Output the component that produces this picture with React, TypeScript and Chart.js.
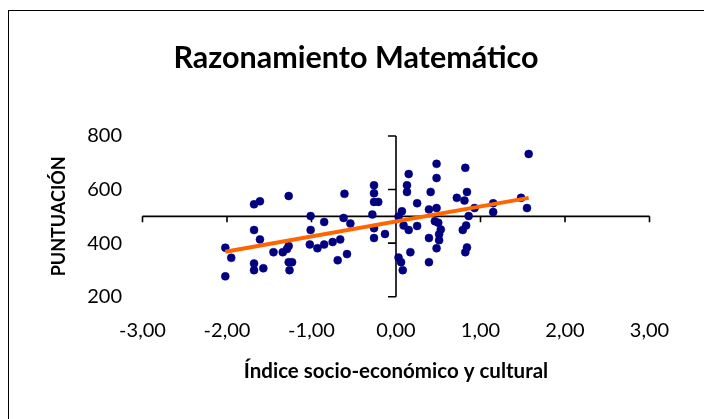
import React, { useEffect, useRef } from "react";
import { Chart, registerables } from "chart.js";

Chart.register(...registerables);

// ---- Text ----
const chartTitle = "Razonamiento Matemático";
const xAxisTitle = "Índice socio-económico y cultural";
const yAxisTitle = "PUNTUACIÓN";

// ---- Axes ----
const xTicks = [-3, -2, -1, 0, 1, 2, 3];
const yTicks = [200, 400, 600, 800];
const crossAtX = 0; // vertical axis crosses at x = 0
const crossAtY = 500; // horizontal axis crosses at y = 500

// ---- Series: Índice socio-económico (x) vs Puntuación (y) ----
const indiceX = [
  -2.02, -1.95, -2.02, -1.68, -1.61, -1.68, -1.61, -1.68, -1.68, -1.57,
  -1.27, -1.45, -1.34, -1.27, -1.29, -1.27, -1.23, -1.26, -1.01, -1.01,
  -1.02, -0.85, -0.93, -0.85, -0.75, -0.66, -0.69, -0.58, -0.61, -0.62,
  -0.54, -0.26, -0.26, -0.26, -0.21, -0.28, -0.26, -0.26, -0.13, 0.03,
  0.07, 0.09, 0.15, 0.25, 0.25, 0.15, 0.13, 0.13, 0.03, 0.06,
  0.08, 0.17, 0.39, 0.39, 0.39, 0.41, 0.48, 0.48, 0.48, 0.46,
  0.5, 0.53, 0.51, 0.51, 0.48, 0.72, 0.81, 0.84, 0.82, 0.86,
  0.83, 0.79, 0.84, 0.82, 0.93, 1.15, 1.15, 1.48, 1.55, 1.57,
];
const puntuacionY = [
  383, 345, 276, 545, 556, 449, 414, 324, 299, 306,
  576, 366, 366, 389, 378, 329, 329, 299, 501, 449,
  395, 479, 381, 395, 404, 414, 336, 359, 584, 494,
  473, 616, 586, 554, 554, 507, 456, 419, 434, 499,
  519, 466, 449, 464, 549, 658, 616, 591, 346, 329,
  299, 366, 329, 419, 526, 591, 696, 643, 531, 482,
  476, 451, 433, 411, 381, 569, 559, 591, 681, 501,
  466, 449, 384, 366, 531, 549, 516, 569, 531, 733,
];

// ---- Linear trend line (end points) ----
const trendX = [-2.02, 1.57];
const trendY = [368, 569];

const fmt = (v: number) => v.toFixed(2).replace(".", ",");

const chartTitlePlugin = {
  id: "chartTitleText",
  afterDraw(chart: any) {
    const { ctx } = chart;
    ctx.save();
    ctx.fillStyle = "#000";
    ctx.font = "bold 30.5px Lato";
    ctx.textAlign = "center";
    ctx.textBaseline = "alphabetic";
    ctx.fillText(chartTitle, 356, 68);
    ctx.restore();
  },
};

const frameBorderPlugin = {
  id: "frameBorder",
  beforeDraw(chart: any) {
    const { ctx } = chart;
    ctx.save();
    ctx.fillStyle = "#fff";
    ctx.fillRect(0, 0, chart.width, chart.height);
    ctx.strokeStyle = "#000";
    ctx.lineWidth = 1;
    ctx.strokeRect(8.5, 10.5, chart.width + 20, chart.height + 20);
    ctx.restore();
  },
};

const crossAxesPlugin = {
  id: "crossAxes",
  beforeDatasetsDraw(chart: any) {
    const { ctx } = chart;
    const xs = chart.scales.x;
    const ys = chart.scales.y;
    const y0 = ys.getPixelForValue(crossAtY);
    const x0 = xs.getPixelForValue(crossAtX);
    ctx.save();
    ctx.strokeStyle = "#000";
    ctx.lineWidth = 1.6;
    ctx.beginPath();
    ctx.moveTo(xs.getPixelForValue(xTicks[0]), y0);
    ctx.lineTo(xs.getPixelForValue(xTicks[xTicks.length - 1]), y0);
    for (const v of xTicks) {
      const px = xs.getPixelForValue(v);
      ctx.moveTo(px, y0);
      ctx.lineTo(px, y0 + 6);
    }
    ctx.moveTo(x0, ys.getPixelForValue(yTicks[0]));
    ctx.lineTo(x0, ys.getPixelForValue(yTicks[yTicks.length - 1]));
    for (const v of yTicks) {
      const py = ys.getPixelForValue(v);
      ctx.moveTo(x0 - 8, py);
      ctx.lineTo(x0, py);
    }
    ctx.stroke();
    ctx.restore();
  },
};

export default function App() {
  const canvasRef = useRef<HTMLCanvasElement | null>(null);

  useEffect(() => {
    if (!canvasRef.current) return;
    const points = indiceX.map((x, i) => ({ x, y: puntuacionY[i] }));
    const trend = trendX.map((x, i) => ({ x, y: trendY[i] }));
    const chart = new Chart(canvasRef.current, {
      type: "scatter",
      data: {
        datasets: [
          {
            label: "Lineal (Puntuación)",
            data: trend,
            showLine: true,
            borderColor: "#FF6600",
            backgroundColor: "#FF6600",
            borderWidth: 4,
            pointRadius: 0,
          },
          {
            label: "Puntuación",
            data: points,
            pointRadius: 4,
            pointBorderWidth: 0.5,
            backgroundColor: "#000080",
            borderColor: "#000080",
          },
        ],
      },
      options: {
        responsive: false,
        animation: false,
        events: [],
        layout: { padding: { left: 8, right: 54.5, top: 136, bottom: 0 } },
        plugins: {
          legend: { display: false },
          tooltip: { enabled: false },
          title: { display: false },
        },
        scales: {
          x: {
            type: "linear",
            position: "bottom",
            min: xTicks[0],
            max: xTicks[xTicks.length - 1],
            afterBuildTicks: (s: any) => {
              s.ticks = xTicks.map((v) => ({ value: v }));
            },
            afterFit: (s: any) => {
              s.height = 122.3;
            },
            grid: { display: false, drawTicks: false },
            border: { display: false },
            ticks: {
              padding: 22,
              autoSkip: false,
              maxRotation: 0,
              color: "#000",
              font: { family: "Lato", size: 20 },
              callback: (v: any) => fmt(Number(v)),
            },
            title: {
              display: true,
              text: xAxisTitle,
              color: "#000",
              font: { family: "Lato", size: 20.5, weight: "bold" },
              padding: { top: 0, bottom: 35.7 },
            },
          },
          y: {
            type: "linear",
            position: "left",
            min: yTicks[0],
            max: yTicks[yTicks.length - 1],
            afterBuildTicks: (s: any) => {
              s.ticks = yTicks.map((v) => ({ value: v }));
            },
            afterFit: (s: any) => {
              s.width = 134.5;
            },
            grid: { display: false, drawTicks: false },
            border: { display: false },
            ticks: {
              padding: 20.5,
              color: "#000",
              font: { family: "Lato", size: 20 },
              callback: (v: any) => String(v),
            },
            title: {
              display: true,
              text: yAxisTitle,
              color: "#000",
              font: { family: "Lato", size: 18, weight: "bold" },
              padding: { top: 40.8, bottom: 0 },
            },
          },
        },
      },
      plugins: [frameBorderPlugin, crossAxesPlugin, chartTitlePlugin],
    } as any);
    return () => chart.destroy();
  }, []);

  return (
    <div style={{ position: "fixed", left: 0, top: 0, width: 704, height: 419, background: "#fff" }}>
      <canvas ref={canvasRef} width={704} height={419} style={{ display: "block", width: 704, height: 419 }} />
    </div>
  );
}
